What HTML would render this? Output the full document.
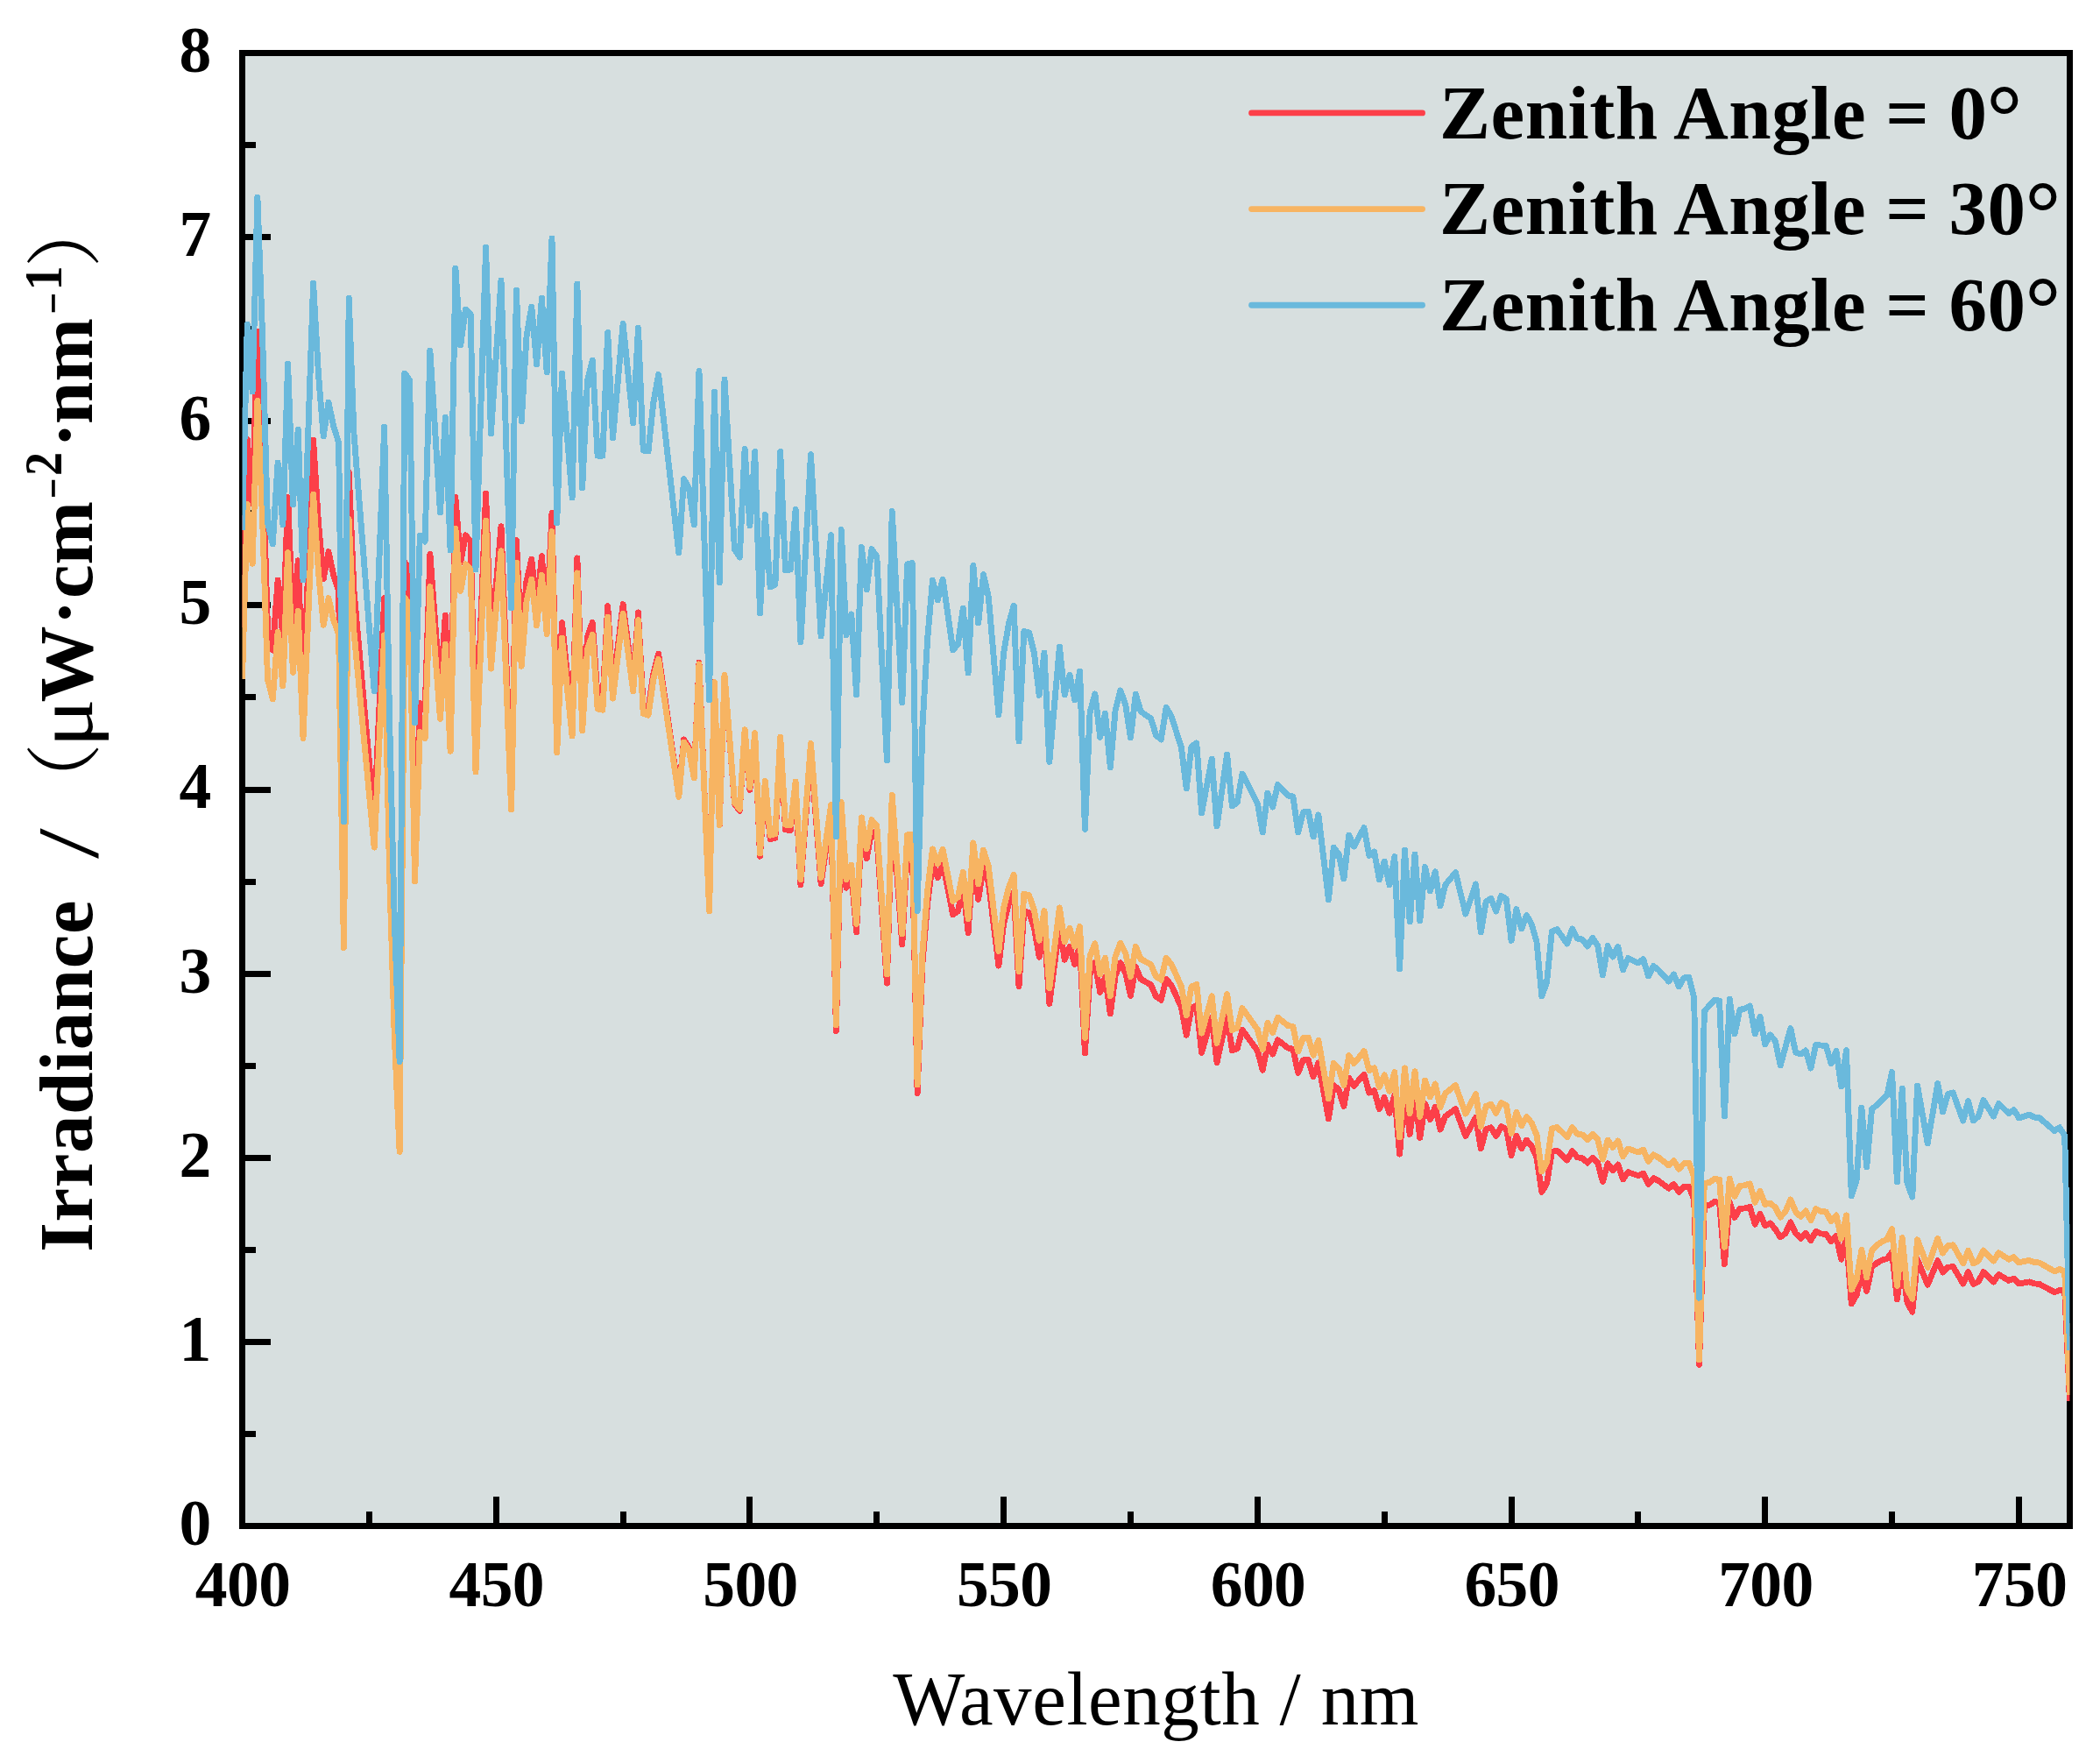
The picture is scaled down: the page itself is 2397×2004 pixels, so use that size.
<!DOCTYPE html>
<html lang="en"><head><meta charset="utf-8"><title>Irradiance vs Wavelength</title>
<style>html,body{margin:0;padding:0;background:#fff}svg{display:block}text{font-family:"Liberation Serif","Noto Serif CJK SC",serif;fill:#000}.b{font-weight:bold}.tk{font-size:73.5px;font-weight:bold}.lg{font-size:87px;font-weight:bold}</style></head><body>
<svg width="2397" height="2004" viewBox="0 0 2397 2004">
<rect width="2397" height="2004" fill="#fff"/>
<rect x="276.5" y="60.5" width="2085.9" height="1681.1" fill="#d7dfdf"/>
<path d="M276.5,1531.5H309M276.5,1321.5H309M276.5,1111.5H309M276.5,901.5H309M276.5,690.5H309M276.5,480.5H309M276.5,270.5H309M276.5,1636.5H292M276.5,1426.5H292M276.5,1216.5H292M276.5,1006.5H292M276.5,795.5H292M276.5,585.5H292M276.5,375.5H292M276.5,165.5H292M566.5,1741.5V1708M855.5,1741.5V1708M1145.5,1741.5V1708M1435.5,1741.5V1708M1725.5,1741.5V1708M2014.5,1741.5V1708M2304.5,1741.5V1708M421.5,1741.5V1725M711.5,1741.5V1725M1000.5,1741.5V1725M1290.5,1741.5V1725M1580.5,1741.5V1725M1869.5,1741.5V1725M2159.5,1741.5V1725" stroke="#000" stroke-width="7" fill="none" shape-rendering="crispEdges"/>
<rect x="276.5" y="60.5" width="2086" height="1681" fill="none" stroke="#000" stroke-width="7" shape-rendering="crispEdges"/>
<clipPath id="c"><rect x="276.5" y="60.5" width="2085.9" height="1681.1"/></clipPath>
<g clip-path="url(#c)" fill="none" stroke-linejoin="round" stroke-linecap="butt" shape-rendering="crispEdges">
<polyline stroke="#fc3f49" stroke-width="6.9" points="276.5,716.1 282.3,501.6 288.1,574.4 293.9,378.0 299.7,526.2 305.5,717.4 311.3,742.1 317.1,662.0 322.9,727.9 328.6,567.7 334.4,712.9 340.2,639.8 346.0,793.7 351.8,647.7 357.6,502.4 363.4,595.4 369.2,660.8 375.0,629.7 380.8,656.7 386.6,674.9 392.4,1050.1 398.2,538.5 404.0,674.2 409.8,739.5 415.6,804.6 421.4,869.3 427.2,933.7 432.9,807.9 438.7,682.6 444.5,963.0 450.3,1160.8 456.1,1297.5 461.9,641.4 467.7,650.6 473.5,978.6 479.3,802.5 485.1,810.5 490.9,632.3 496.7,711.1 502.5,789.5 508.3,702.0 514.1,828.9 519.9,567.5 525.7,641.9 531.4,610.8 537.2,618.1 543.0,856.4 548.8,709.4 554.6,563.0 560.4,737.1 566.2,668.8 572.0,600.8 577.8,752.9 583.6,904.3 589.4,616.5 595.2,738.1 601.0,663.1 606.8,638.2 612.6,692.6 618.4,634.7 624.2,703.8 630.0,585.5 635.7,842.9 641.5,710.6 647.3,768.1 653.1,825.3 658.9,636.9 664.7,820.2 670.5,726.4 676.3,710.4 682.1,796.7 687.9,798.4 693.7,691.7 699.5,786.3 705.3,737.9 711.1,689.6 716.9,734.9 722.7,780.0 728.5,698.9 734.2,807.0 740.0,809.3 745.8,769.0 751.6,746.1 757.4,786.3 763.2,826.3 769.0,866.2 774.8,905.9 780.6,843.9 786.4,853.2 792.2,886.0 798.0,756.1 803.8,897.9 809.6,1039.2 815.4,778.4 821.2,941.8 827.0,771.0 832.8,844.3 838.5,917.4 844.3,925.3 850.1,835.5 855.9,901.3 861.7,840.4 867.5,977.2 873.3,895.8 879.1,957.5 884.9,956.4 890.7,847.0 896.5,946.8 902.3,947.5 908.1,898.8 913.9,1009.9 919.7,933.3 925.5,856.9 931.3,933.0 937.1,1008.9 942.8,968.4 948.6,927.9 954.4,1176.5 960.2,925.8 966.0,1013.2 971.8,997.0 977.6,1063.7 983.4,944.2 989.2,979.9 995.0,947.9 1000.8,954.9 1006.6,1038.6 1012.4,1122.1 1018.2,921.3 1024.0,999.6 1029.8,1077.8 1035.6,967.1 1041.3,967.1 1047.1,1247.5 1052.9,1100.4 1058.7,1030.4 1064.5,984.4 1070.3,1001.5 1076.1,985.5 1081.9,1014.7 1087.7,1043.9 1093.5,1039.8 1099.3,1012.0 1105.1,1064.4 1110.9,980.1 1116.7,1026.3 1122.5,988.7 1128.3,1007.2 1134.1,1054.7 1139.9,1102.1 1145.6,1054.2 1151.4,1031.7 1157.2,1018.1 1163.0,1125.5 1168.8,1040.0 1174.6,1041.7 1180.4,1058.2 1186.2,1092.1 1192.0,1059.7 1197.8,1145.4 1203.6,1101.2 1209.4,1057.0 1215.2,1095.2 1221.0,1080.2 1226.8,1100.6 1232.6,1078.8 1238.4,1201.9 1244.1,1111.9 1249.9,1098.4 1255.7,1132.5 1261.5,1114.6 1267.3,1157.0 1273.1,1113.5 1278.9,1098.9 1284.7,1110.3 1290.5,1136.4 1296.3,1103.4 1302.1,1117.4 1307.9,1120.7 1313.7,1124.0 1319.5,1137.3 1325.3,1141.2 1331.1,1117.3 1336.9,1124.2 1342.7,1136.8 1348.4,1149.4 1354.2,1181.2 1360.0,1149.8 1365.8,1147.6 1371.6,1201.3 1377.4,1181.2 1383.2,1161.1 1389.0,1212.6 1394.8,1186.0 1400.6,1159.3 1406.4,1198.8 1412.2,1196.7 1418.0,1175.4 1423.8,1183.3 1429.6,1191.2 1435.4,1199.2 1441.2,1221.3 1446.9,1192.2 1452.7,1203.1 1458.5,1186.8 1464.3,1191.4 1470.1,1196.0 1475.9,1197.1 1481.7,1224.3 1487.5,1209.7 1493.3,1209.5 1499.1,1228.8 1504.9,1212.9 1510.7,1244.9 1516.5,1276.9 1522.3,1238.3 1528.1,1243.8 1533.9,1262.4 1539.7,1230.4 1545.5,1239.2 1551.2,1232.6 1557.0,1226.1 1562.8,1247.1 1568.6,1244.6 1574.4,1265.6 1580.2,1252.5 1586.0,1270.2 1591.8,1249.7 1597.6,1317.1 1603.4,1245.6 1609.2,1294.4 1615.0,1249.5 1620.8,1298.6 1626.6,1259.5 1632.4,1277.5 1638.2,1263.5 1644.0,1289.1 1649.7,1274.1 1655.5,1269.8 1661.3,1265.6 1667.1,1281.0 1672.9,1296.4 1678.7,1285.9 1684.5,1275.4 1690.3,1310.8 1696.1,1288.8 1701.9,1286.9 1707.7,1296.4 1713.5,1285.6 1719.3,1288.2 1725.1,1318.5 1730.9,1296.2 1736.7,1310.7 1742.5,1301.2 1748.3,1308.1 1754.0,1321.0 1759.8,1360.4 1765.6,1350.6 1771.4,1314.3 1777.2,1313.1 1783.0,1318.6 1788.8,1324.0 1794.6,1313.6 1800.4,1320.8 1806.2,1321.7 1812.0,1327.0 1817.8,1321.3 1823.6,1326.9 1829.4,1348.5 1835.2,1327.9 1841.0,1335.9 1846.8,1329.1 1852.5,1345.8 1858.3,1337.7 1864.1,1339.7 1869.9,1341.6 1875.7,1339.1 1881.5,1351.5 1887.3,1344.6 1893.1,1347.6 1898.9,1351.9 1904.7,1356.2 1910.5,1351.5 1916.3,1360.4 1922.1,1354.5 1927.9,1354.4 1933.7,1369.2 1939.5,1557.3 1945.3,1376.8 1951.1,1375.3 1956.8,1371.6 1962.6,1372.2 1968.4,1442.6 1974.2,1371.5 1980.0,1389.4 1985.8,1379.6 1991.6,1378.9 1997.4,1377.3 2003.2,1397.2 2009.0,1385.4 2014.8,1398.7 2020.6,1395.9 2026.4,1403.0 2032.2,1411.9 2038.0,1407.5 2043.8,1394.8 2049.6,1407.5 2055.4,1413.2 2061.1,1407.4 2066.9,1415.5 2072.7,1405.2 2078.5,1407.9 2084.3,1408.5 2090.1,1416.9 2095.9,1410.3 2101.7,1437.2 2107.5,1412.3 2113.3,1488.0 2119.1,1478.0 2124.9,1452.5 2130.7,1473.5 2136.5,1445.7 2142.3,1441.4 2148.1,1438.2 2153.9,1436.5 2159.6,1429.1 2165.4,1482.9 2171.2,1440.7 2177.0,1486.5 2182.8,1497.1 2188.6,1437.3 2194.4,1451.8 2200.2,1466.3 2206.0,1452.4 2211.8,1438.6 2217.6,1452.0 2223.4,1446.3 2229.2,1445.5 2235.0,1455.2 2240.8,1465.0 2246.6,1451.7 2252.4,1465.3 2258.2,1462.6 2263.9,1451.7 2269.7,1457.3 2275.5,1463.0 2281.3,1454.6 2287.1,1458.0 2292.9,1461.4 2298.7,1459.2 2304.5,1465.0 2310.3,1463.9 2316.1,1462.9 2321.9,1464.9 2327.7,1465.4 2333.5,1468.5 2339.3,1471.6 2345.1,1474.7 2350.9,1472.6 2356.7,1473.0 2362.4,1598.7"/>
<polyline stroke="#f7b462" stroke-width="6.9" points="276.5,775.0 282.3,575.6 288.1,643.2 293.9,457.3 299.7,596.0 305.5,775.4 311.3,798.0 317.1,721.6 322.9,783.0 328.6,630.7 334.4,767.3 340.2,697.3 346.0,842.4 351.8,703.1 357.6,564.3 363.4,651.8 369.2,713.2 375.0,682.8 380.8,707.7 386.6,724.3 392.4,1081.6 398.2,592.5 404.0,721.3 409.8,783.1 415.6,844.6 421.4,906.0 427.2,967.1 432.9,845.8 438.7,724.9 444.5,993.5 450.3,1183.1 456.1,1314.3 461.9,682.3 467.7,690.4 473.5,1005.9 479.3,835.5 485.1,842.5 490.9,669.7 496.7,745.2 502.5,820.4 508.3,735.1 514.1,857.3 519.9,603.3 525.7,674.6 531.4,643.8 537.2,650.1 543.0,881.1 548.8,737.5 554.6,594.3 560.4,763.1 566.2,695.9 572.0,628.9 577.8,776.6 583.6,923.9 589.4,642.1 595.2,760.3 601.0,686.3 606.8,661.3 612.6,713.9 618.4,656.4 624.2,723.6 630.0,606.7 635.7,858.9 641.5,728.3 647.3,784.2 653.1,840.0 658.9,653.9 664.7,833.8 670.5,740.8 676.3,724.4 682.1,809.0 687.9,810.1 693.7,704.1 699.5,797.1 705.3,748.6 711.1,700.2 716.9,744.5 722.7,788.7 728.5,707.7 734.2,814.3 740.0,816.1 745.8,775.5 751.6,752.3 757.4,791.6 763.2,830.9 769.0,870.1 774.8,909.2 780.6,847.0 786.4,855.7 792.2,888.0 798.0,757.9 803.8,898.9 809.6,1039.7 815.4,778.6 821.2,941.6 827.0,770.2 832.8,843.1 838.5,915.9 844.3,923.3 850.1,832.8 855.9,898.4 861.7,836.8 867.5,973.8 873.3,891.6 879.1,953.2 884.9,951.7 890.7,841.2 896.5,941.2 902.3,941.5 908.1,892.0 913.9,1003.7 919.7,926.0 925.5,848.5 931.3,925.0 937.1,1001.3 942.8,959.9 948.6,918.6 954.4,1169.7 960.2,915.7 966.0,1003.8 971.8,987.1 977.6,1054.4 983.4,932.9 989.2,968.7 995.0,935.8 1000.8,942.6 1006.6,1027.3 1012.4,1111.9 1018.2,907.4 1024.0,986.7 1029.8,1065.9 1035.6,952.9 1041.3,952.6 1047.1,1238.0 1052.9,1087.8 1058.7,1016.1 1064.5,968.9 1070.3,985.9 1076.1,969.4 1081.9,998.9 1087.7,1028.3 1093.5,1023.9 1099.3,995.2 1105.1,1048.4 1110.9,961.9 1116.7,1008.9 1122.5,970.1 1128.3,988.7 1134.1,1037.1 1139.9,1085.4 1145.6,1036.0 1151.4,1012.7 1157.2,998.4 1163.0,1108.5 1168.8,1020.3 1174.6,1021.8 1180.4,1038.5 1186.2,1073.1 1192.0,1039.5 1197.8,1127.5 1203.6,1081.7 1209.4,1035.9 1215.2,1075.0 1221.0,1059.3 1226.8,1080.1 1232.6,1057.4 1238.4,1184.3 1244.1,1091.0 1249.9,1076.9 1255.7,1111.9 1261.5,1093.1 1267.3,1136.8 1273.1,1091.6 1278.9,1076.2 1284.7,1087.7 1290.5,1114.6 1296.3,1080.2 1302.1,1094.5 1307.9,1097.6 1313.7,1100.8 1319.5,1114.4 1325.3,1118.2 1331.1,1093.2 1336.9,1100.2 1342.7,1113.1 1348.4,1125.9 1354.2,1158.8 1360.0,1125.9 1365.8,1123.5 1371.6,1179.1 1377.4,1158.0 1383.2,1136.9 1389.0,1190.4 1394.8,1162.4 1400.6,1134.5 1406.4,1175.5 1412.2,1173.0 1418.0,1150.6 1423.8,1158.7 1429.6,1166.8 1435.4,1174.9 1441.2,1197.9 1446.9,1167.3 1452.7,1178.6 1458.5,1161.3 1464.3,1165.9 1470.1,1170.5 1475.9,1171.5 1481.7,1199.9 1487.5,1184.4 1493.3,1184.0 1499.1,1204.1 1504.9,1187.3 1510.7,1220.7 1516.5,1254.0 1522.3,1213.4 1528.1,1219.1 1533.9,1238.4 1539.7,1204.6 1545.5,1213.7 1551.2,1206.7 1557.0,1199.7 1562.8,1221.5 1568.6,1218.8 1574.4,1240.8 1580.2,1226.8 1586.0,1245.3 1591.8,1223.6 1597.6,1297.9 1603.4,1218.9 1609.2,1270.5 1615.0,1222.8 1620.8,1274.5 1626.6,1233.0 1632.4,1251.9 1638.2,1237.0 1644.0,1263.8 1649.7,1247.9 1655.5,1243.2 1661.3,1238.6 1667.1,1254.8 1672.9,1271.0 1678.7,1259.7 1684.5,1248.5 1690.3,1285.7 1696.1,1262.4 1701.9,1260.2 1707.7,1270.2 1713.5,1258.6 1719.3,1261.2 1725.1,1293.3 1730.9,1269.4 1736.7,1284.7 1742.5,1274.5 1748.3,1281.7 1754.0,1295.3 1759.8,1337.0 1765.6,1326.5 1771.4,1287.9 1777.2,1286.4 1783.0,1292.1 1788.8,1297.8 1794.6,1286.6 1800.4,1294.2 1806.2,1295.0 1812.0,1300.5 1817.8,1294.3 1823.6,1300.2 1829.4,1323.1 1835.2,1301.0 1841.0,1309.4 1846.8,1302.0 1852.5,1319.8 1858.3,1311.0 1864.1,1313.0 1869.9,1315.0 1875.7,1312.2 1881.5,1325.3 1887.3,1317.9 1893.1,1321.0 1898.9,1325.4 1904.7,1329.9 1910.5,1324.8 1916.3,1334.2 1922.1,1327.8 1927.9,1327.5 1933.7,1343.3 1939.5,1552.0 1945.3,1350.4 1951.1,1349.5 1956.8,1345.5 1962.6,1346.1 1968.4,1423.2 1974.2,1345.0 1980.0,1365.3 1985.8,1353.5 1991.6,1352.7 1997.4,1350.9 2003.2,1372.1 2009.0,1359.4 2014.8,1374.6 2020.6,1373.2 2026.4,1377.9 2032.2,1389.1 2038.0,1382.7 2043.8,1368.9 2049.6,1382.8 2055.4,1388.5 2061.1,1381.8 2066.9,1392.5 2072.7,1379.8 2078.5,1382.4 2084.3,1383.0 2090.1,1393.8 2095.9,1387.0 2101.7,1413.7 2107.5,1386.8 2113.3,1471.5 2119.1,1460.7 2124.9,1426.3 2130.7,1457.8 2136.5,1427.2 2142.3,1420.9 2148.1,1417.0 2153.9,1414.5 2159.6,1402.5 2165.4,1467.3 2171.2,1412.7 2177.0,1471.0 2182.8,1482.1 2188.6,1414.8 2194.4,1429.8 2200.2,1446.4 2206.0,1429.5 2211.8,1413.5 2217.6,1430.1 2223.4,1421.7 2229.2,1420.8 2235.0,1431.2 2240.8,1441.7 2246.6,1427.3 2252.4,1441.9 2258.2,1438.9 2263.9,1427.0 2269.7,1433.0 2275.5,1439.1 2281.3,1429.8 2287.1,1433.5 2292.9,1437.2 2298.7,1434.7 2304.5,1440.8 2310.3,1439.6 2316.1,1438.4 2321.9,1440.5 2327.7,1441.0 2333.5,1444.3 2339.3,1447.6 2345.1,1450.9 2350.9,1448.5 2356.7,1451.4 2362.4,1592.0"/>
<polyline stroke="#6ab9dc" stroke-width="6.9" points="276.5,605.0 282.3,370.0 288.1,447.0 293.9,225.0 299.7,386.2 305.5,596.3 311.3,621.0 317.1,528.0 322.9,599.0 328.6,415.0 334.4,576.0 340.2,490.0 346.0,662.0 351.8,492.5 357.6,323.0 363.4,426.1 369.2,498.0 375.0,459.0 380.8,487.0 386.6,505.0 392.4,938.0 398.2,340.0 404.0,495.0 409.8,568.5 415.6,642.0 421.4,715.5 427.2,789.0 432.9,638.0 438.7,487.0 444.5,817.0 450.3,1050.2 456.1,1211.8 461.9,426.0 467.7,434.0 473.5,825.0 479.3,611.0 485.1,618.0 490.9,400.0 496.7,492.5 502.5,585.0 508.3,476.0 514.1,628.0 519.9,306.0 525.7,394.0 531.4,353.0 537.2,359.0 543.0,650.0 548.8,466.0 554.6,282.0 560.4,495.0 566.2,407.5 572.0,320.0 577.8,507.0 583.6,694.0 589.4,331.0 595.2,481.0 601.0,384.1 606.8,350.0 612.6,416.0 618.4,340.0 624.2,425.0 630.0,272.0 635.7,597.0 641.5,426.0 647.3,497.0 653.1,568.0 658.9,324.0 664.7,557.0 670.5,434.0 676.3,411.0 682.1,520.1 687.9,520.1 693.7,379.4 699.5,500.0 705.3,434.7 711.1,369.4 716.9,426.2 722.7,483.0 728.5,374.4 734.2,514.0 740.0,515.0 745.8,459.7 751.6,427.4 757.4,478.3 763.2,529.2 769.0,580.1 774.8,631.0 780.6,546.6 786.4,557.0 792.2,599.0 798.0,423.4 803.8,611.2 809.6,799.0 815.4,447.0 821.2,665.0 827.0,433.0 832.8,530.0 838.5,627.0 844.3,636.0 850.1,512.4 855.9,600.0 861.7,515.4 867.5,700.0 873.3,587.4 879.1,670.0 884.9,667.0 890.7,515.4 896.5,650.6 902.3,650.0 908.1,581.4 913.9,733.0 919.7,625.8 925.5,518.6 931.3,622.3 937.1,726.0 942.8,668.3 948.6,610.6 954.4,955.0 960.2,604.6 966.0,725.0 971.8,701.0 977.6,793.0 983.4,624.4 989.2,673.0 995.0,626.6 1000.8,635.0 1006.6,751.5 1012.4,868.0 1018.2,583.4 1024.0,692.7 1029.8,802.0 1035.6,644.0 1041.3,642.6 1047.1,1039.6 1052.9,829.6 1058.7,728.7 1064.5,662.0 1070.3,685.0 1076.1,661.0 1081.9,701.5 1087.7,742.0 1093.5,735.0 1099.3,694.0 1105.1,768.0 1110.9,645.6 1116.7,711.0 1122.5,655.6 1128.3,681.0 1134.1,748.5 1139.9,816.0 1145.6,745.5 1151.4,711.9 1157.2,691.0 1163.0,846.0 1168.8,720.6 1174.6,722.0 1180.4,745.0 1186.2,793.4 1192.0,745.0 1197.8,869.4 1203.6,803.7 1209.4,738.0 1215.2,793.0 1221.0,770.0 1226.8,799.0 1232.6,766.0 1238.4,946.4 1244.1,812.8 1249.9,792.0 1255.7,841.4 1261.5,814.0 1267.3,876.0 1273.1,810.7 1278.9,788.0 1284.7,804.0 1290.5,842.0 1296.3,792.0 1302.1,812.0 1307.9,816.0 1313.7,820.0 1319.5,839.0 1325.3,844.0 1331.1,807.4 1336.9,817.0 1342.7,835.0 1348.4,853.0 1354.2,900.0 1360.0,852.0 1365.8,848.0 1371.6,928.0 1377.4,897.0 1383.2,866.0 1389.0,943.0 1394.8,902.0 1400.6,861.0 1406.4,920.0 1412.2,916.0 1418.0,883.0 1423.8,894.3 1429.6,905.7 1435.4,917.0 1441.2,950.0 1446.9,905.0 1452.7,921.0 1458.5,895.4 1464.3,901.7 1470.1,908.0 1475.9,909.0 1481.7,950.0 1487.5,927.0 1493.3,926.0 1499.1,955.0 1504.9,930.0 1510.7,978.5 1516.5,1027.0 1522.3,967.0 1528.1,975.0 1533.9,1003.0 1539.7,953.0 1545.5,966.0 1551.2,955.3 1557.0,944.6 1562.8,976.4 1568.6,972.0 1574.4,1004.0 1580.2,983.0 1586.0,1010.0 1591.8,977.6 1597.6,1106.0 1603.4,970.0 1609.2,1052.0 1615.0,975.0 1620.8,1051.0 1626.6,989.4 1632.4,1017.0 1638.2,994.6 1644.0,1034.0 1649.7,1010.0 1655.5,1002.8 1661.3,995.6 1667.1,1019.3 1672.9,1043.0 1678.7,1026.0 1684.5,1009.0 1690.3,1064.0 1696.1,1029.0 1701.9,1025.4 1707.7,1040.0 1713.5,1022.4 1719.3,1026.0 1725.1,1073.4 1730.9,1037.6 1736.7,1060.0 1742.5,1044.6 1748.3,1055.0 1754.0,1075.0 1759.8,1137.0 1765.6,1121.0 1771.4,1063.0 1777.2,1060.6 1783.0,1068.8 1788.8,1077.0 1794.6,1060.0 1800.4,1071.0 1806.2,1072.0 1812.0,1080.0 1817.8,1070.4 1823.6,1079.0 1829.4,1113.0 1835.2,1079.6 1841.0,1092.0 1846.8,1080.6 1852.5,1107.0 1858.3,1093.6 1864.1,1096.3 1869.9,1099.0 1875.7,1094.6 1881.5,1114.0 1887.3,1102.6 1893.1,1107.0 1898.9,1113.5 1904.7,1120.0 1910.5,1112.0 1916.3,1126.0 1922.1,1116.0 1927.9,1115.4 1933.7,1139.0 1939.5,1481.2 1945.3,1154.0 1951.1,1147.7 1956.8,1141.4 1962.6,1142.0 1968.4,1274.0 1974.2,1140.0 1980.0,1180.0 1985.8,1152.4 1991.6,1151.0 1997.4,1148.0 2003.2,1180.0 2009.0,1160.4 2014.8,1192.0 2020.6,1181.0 2026.4,1188.0 2032.2,1216.0 2038.0,1194.8 2043.8,1173.6 2049.6,1201.0 2055.4,1203.0 2061.1,1199.0 2066.9,1219.0 2072.7,1192.4 2078.5,1193.0 2084.3,1193.6 2090.1,1214.0 2095.9,1199.4 2101.7,1240.0 2107.5,1198.6 2113.3,1365.0 2119.1,1347.0 2124.9,1264.0 2130.7,1332.0 2136.5,1266.0 2142.3,1261.0 2148.1,1255.5 2153.9,1250.0 2159.6,1223.4 2165.4,1349.0 2171.2,1242.0 2177.0,1350.0 2182.8,1366.0 2188.6,1239.0 2194.4,1272.0 2200.2,1305.0 2206.0,1270.7 2211.8,1236.4 2217.6,1269.0 2223.4,1248.6 2229.2,1247.0 2235.0,1263.0 2240.8,1279.0 2246.6,1256.6 2252.4,1279.0 2258.2,1274.2 2263.9,1255.6 2269.7,1264.8 2275.5,1274.0 2281.3,1259.6 2287.1,1265.1 2292.9,1270.6 2298.7,1266.6 2304.5,1276.0 2310.3,1274.0 2316.1,1272.0 2321.9,1275.0 2327.7,1275.6 2333.5,1280.6 2339.3,1285.6 2345.1,1290.6 2350.9,1286.7 2356.7,1296.1 2362.4,1540.7"/>
</g>
<text class="tk" x="241.2" y="1762.9" text-anchor="end">0</text>
<text class="tk" x="241.2" y="1552.8" text-anchor="end">1</text>
<text class="tk" x="241.2" y="1342.6" text-anchor="end">2</text>
<text class="tk" x="241.2" y="1132.5" text-anchor="end">3</text>
<text class="tk" x="241.2" y="922.3" text-anchor="end">4</text>
<text class="tk" x="241.2" y="712.2" text-anchor="end">5</text>
<text class="tk" x="241.2" y="502.1" text-anchor="end">6</text>
<text class="tk" x="241.2" y="291.9" text-anchor="end">7</text>
<text class="tk" x="241.2" y="81.8" text-anchor="end">8</text>
<text class="tk" x="277.1" y="1832.6" text-anchor="middle" letter-spacing="-0.6">400</text>
<text class="tk" x="566.8" y="1832.6" text-anchor="middle" letter-spacing="-0.6">450</text>
<text class="tk" x="856.5" y="1832.6" text-anchor="middle" letter-spacing="-0.6">500</text>
<text class="tk" x="1146.2" y="1832.6" text-anchor="middle" letter-spacing="-0.6">550</text>
<text class="tk" x="1436.0" y="1832.6" text-anchor="middle" letter-spacing="-0.6">600</text>
<text class="tk" x="1725.7" y="1832.6" text-anchor="middle" letter-spacing="-0.6">650</text>
<text class="tk" x="2015.4" y="1832.6" text-anchor="middle" letter-spacing="-0.6">700</text>
<text class="tk" x="2305.1" y="1832.6" text-anchor="middle" letter-spacing="-0.6">750</text>
<text x="1319.6" y="1967.5" font-size="87" text-anchor="middle" letter-spacing="0.57">Wavelength / nm</text>
<line x1="1428.6" y1="128.9" x2="1623.5" y2="128.9" stroke="#fc3f49" stroke-width="6.9" stroke-linecap="round"/>
<text class="lg" x="1643" y="157.6" letter-spacing="0.5">Zenith Angle = 0<tspan font-size="102" dx="-1" dy="9.5">°</tspan></text>
<line x1="1428.6" y1="238.6" x2="1623.5" y2="238.6" stroke="#f7b462" stroke-width="6.9" stroke-linecap="round"/>
<text class="lg" x="1643" y="267.1" letter-spacing="0.5">Zenith Angle = 30<tspan font-size="102" dx="-1" dy="9.5">°</tspan></text>
<line x1="1428.6" y1="348.2" x2="1623.5" y2="348.2" stroke="#6ab9dc" stroke-width="6.9" stroke-linecap="round"/>
<text class="lg" x="1643" y="376.7" letter-spacing="0.5">Zenith Angle = 60<tspan font-size="102" dx="-1" dy="9.5">°</tspan></text>
<g transform="translate(104.8,0) rotate(-90)">
<text class="lg" x="-1429" y="0" letter-spacing="0.6">Irradiance</text>
<text transform="translate(-980,6) scale(1.25,1)" font-size="100">/</text>
<text x="-935" y="0" font-size="87">（</text>
<text transform="translate(-853.1,0) scale(1.13,1)" font-size="92">μ</text>
<text class="lg" x="-801.5" y="0">W</text>
<text class="lg" x="-713.5" y="-1.8">·</text>
<text class="lg" x="-683" y="0">cm</text>
<text transform="translate(-569.1,-19) scale(0.71,1.3)" font-size="58">−</text>
<text class="b" transform="translate(-542.9,-34.9) scale(0.87,1)" font-size="62">2</text>
<text class="lg" x="-511" y="-1.8">·</text>
<text class="lg" x="-484" y="0">nm</text>
<text transform="translate(-358.5,-19) scale(0.75,1.3)" font-size="58">−</text>
<text class="b" transform="translate(-331.6,-34.9) scale(0.91,1)" font-size="62">1</text>
<text x="-305.5" y="0" font-size="87">）</text>
</g>
</svg></body></html>
